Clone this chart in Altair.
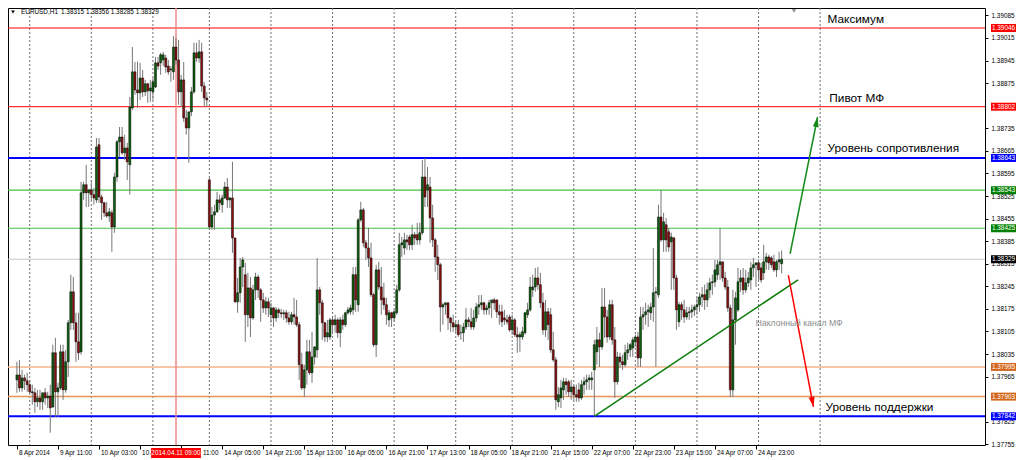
import altair as alt
import pandas as pd

# ---- hourly EURUSD candles (values in points above 1.37000; 1 point = 0.00001) ----
opens = [
    955, 970, 930, 961, 952, 940, 918, 915, 887, 899,
    887, 915, 899, 905, 871, 1039, 918, 930, 1042, 924,
    1011, 1132, 1228, 1132, 1073, 1042, 1535, 1560, 1535, 1544,
    1529, 1513, 1684, 1522, 1504, 1473, 1463, 1473, 1429, 1584,
    1693, 1708, 1659, 1674, 1622, 1798, 1910, 1854, 1845, 1891,
    1848, 1873, 1851, 1848, 1863, 1938, 1938, 1947, 1953, 1928,
    1916, 1910, 1987, 1947, 1848, 1885, 1767, 1736, 1786, 1848,
    1969, 1953, 1972, 1866, 1829, 1575, 1429, 1466, 1476, 1513,
    1498, 1519, 1553, 1513, 1519, 1395, 1197, 1225, 1305, 1281,
    1157, 1240, 1147, 1234, 1274, 1234, 1203, 1178, 1197, 1157,
    1178, 1147, 1172, 1163, 1160, 1163, 1147, 1135, 1157, 1150,
    1126, 1002, 930, 986, 1042, 977, 1026, 1048, 1234, 1194,
    1132, 1088, 1088, 1141, 1126, 1141, 1101, 1141, 1126, 1163,
    1166, 1172, 1281, 1188, 1451, 1482, 1380, 1364, 1333, 1219,
    1064, 1296, 1243, 1209, 1188, 1141, 1163, 1147, 1163, 1234,
    1374, 1364, 1389, 1398, 1374, 1405, 1405, 1389, 1411, 1584,
    1544, 1553, 1457, 1389, 1336, 1312, 1181, 1188, 1194, 1147,
    1132, 1119, 1126, 1101, 1101, 1119, 1141, 1135, 1119, 1147,
    1181, 1188, 1194, 1172, 1178, 1194, 1203, 1203, 1166, 1166,
    1147, 1141, 1150, 1110, 1141, 1095, 1088, 1088, 1101, 1157,
    1172, 1234, 1243, 1271, 1250, 1194, 1110, 1166, 1157, 1048,
    1017, 887, 899, 924, 949, 949, 918, 933, 909, 924,
    899, 940, 949, 955, 955, 986, 1042, 1079, 1057, 1181,
    1150, 1088, 1188, 1079, 949, 1026, 1011, 1002, 1039, 1048,
    1054, 1073, 1088, 1023, 1150, 1157, 1166, 1163, 1181, 1225,
    1219, 1460, 1389, 1436, 1414, 1383, 1395, 1271, 1135, 1188,
    1172, 1150, 1163, 1166, 1172, 1181, 1188, 1212, 1219, 1203,
    1234, 1256, 1259, 1281, 1312, 1321, 1271, 1243, 1178, 924,
    1141, 1172, 1259, 1271, 1234, 1256, 1265, 1302, 1312, 1318,
    1302, 1287, 1321, 1336, 1333, 1321, 1296, 1321, 1315,
]
highs = [
    1011, 1017, 986, 971, 977, 955, 940, 930, 924, 924,
    915, 930, 918, 940, 1064, 1085, 946, 1064, 1064, 1048,
    1141, 1281, 1274, 1163, 1163, 1569, 1569, 1622, 1544, 1575,
    1550, 1705, 1705, 1529, 1507, 1507, 1488, 1482, 1597, 1699,
    1739, 1739, 1715, 1690, 1832, 1987, 1941, 1941, 1938, 1916,
    1885, 1876, 1885, 1891, 1956, 1956, 1969, 1972, 1963, 1947,
    1928, 2021, 2015, 2009, 1901, 1941, 1792, 1786, 1863, 2000,
    2000, 2009, 2000, 1879, 1848, 1581, 1491, 1498, 1538, 1529,
    1529, 1569, 1581, 1522, 1631, 1395, 1271, 1333, 1336, 1318,
    1287, 1274, 1250, 1287, 1281, 1240, 1225, 1212, 1209, 1194,
    1181, 1181, 1178, 1175, 1172, 1172, 1166, 1166, 1209, 1203,
    1135, 1039, 1002, 1079, 1079, 1104, 1060, 1333, 1243, 1203,
    1135, 1141, 1147, 1147, 1157, 1147, 1150, 1157, 1166, 1181,
    1188, 1305, 1305, 1457, 1507, 1488, 1389, 1426, 1380, 1225,
    1312, 1321, 1305, 1256, 1209, 1172, 1166, 1172, 1250, 1411,
    1398, 1411, 1405, 1405, 1436, 1414, 1442, 1442, 1637, 1643,
    1615, 1584, 1498, 1395, 1374, 1318, 1194, 1194, 1194, 1150,
    1157, 1135, 1141, 1126, 1132, 1178, 1150, 1178, 1172, 1194,
    1218, 1218, 1197, 1188, 1203, 1203, 1209, 1203, 1188, 1188,
    1172, 1157, 1157, 1157, 1147, 1119, 1104, 1119, 1166, 1194,
    1274, 1281, 1302, 1305, 1287, 1225, 1203, 1178, 1178, 1104,
    1026, 933, 955, 961, 961, 955, 955, 940, 940, 946,
    955, 964, 971, 971, 980, 1079, 1119, 1101, 1240, 1240,
    1172, 1203, 1203, 1119, 1042, 1039, 1033, 1064, 1070, 1070,
    1088, 1095, 1104, 1181, 1181, 1194, 1188, 1194, 1364, 1243,
    1498, 1544, 1473, 1457, 1426, 1411, 1398, 1281, 1197, 1197,
    1203, 1181, 1181, 1188, 1188, 1212, 1225, 1243, 1250, 1256,
    1271, 1281, 1327, 1327, 1426, 1321, 1290, 1265, 1188, 1234,
    1228, 1302, 1296, 1302, 1296, 1290, 1321, 1333, 1318, 1321,
    1318, 1374, 1349, 1343, 1339, 1343, 1327, 1352, 1356,
]
lows = [
    915, 918, 918, 924, 918, 909, 878, 853, 871, 862,
    862, 878, 868, 791, 868, 840, 840, 924, 893, 915,
    964, 1110, 1110, 1011, 1017, 1033, 1513, 1491, 1491, 1513,
    1498, 1504, 1504, 1451, 1460, 1457, 1445, 1352, 1411, 1569,
    1646, 1653, 1637, 1575, 1529, 1792, 1839, 1798, 1823, 1832,
    1835, 1814, 1817, 1823, 1860, 1916, 1901, 1928, 1907, 1901,
    1879, 1885, 1932, 1808, 1801, 1755, 1715, 1628, 1773, 1842,
    1941, 1938, 1848, 1801, 1801, 1420, 1420, 1420, 1473, 1482,
    1473, 1516, 1488, 1488, 1349, 1194, 1163, 1194, 1243, 1073,
    1119, 1088, 1141, 1203, 1209, 1135, 1163, 1157, 1150, 1132,
    1119, 1135, 1147, 1147, 1141, 1132, 1126, 1126, 1126, 1119,
    955, 924, 902, 940, 970, 946, 1002, 1023, 1157, 1079,
    1073, 1073, 1079, 1104, 1101, 1085, 1057, 1110, 1119, 1157,
    1157, 1157, 1166, 1166, 1445, 1367, 1327, 1305, 1212, 1057,
    1026, 1234, 1157, 1172, 1126, 1119, 1119, 1135, 1157, 1228,
    1336, 1343, 1358, 1358, 1358, 1374, 1374, 1374, 1405, 1491,
    1491, 1380, 1367, 1290, 1265, 1104, 1126, 1157, 1110, 1104,
    1104, 1101, 1088, 1079, 1073, 1110, 1119, 1110, 1110, 1135,
    1157, 1172, 1157, 1157, 1157, 1147, 1172, 1147, 1126, 1119,
    1126, 1126, 1104, 1095, 1088, 1039, 1042, 1079, 1095, 1147,
    1166, 1212, 1228, 1234, 1178, 1095, 1088, 1079, 1039, 1011,
    862, 871, 868, 893, 909, 902, 893, 893, 887, 887,
    893, 909, 924, 924, 924, 843, 1002, 995, 1048, 1085,
    1070, 1079, 1064, 899, 940, 992, 986, 995, 1017, 1026,
    1026, 1057, 995, 995, 1110, 1126, 1119, 1141, 1135, 995,
    1209, 1383, 1352, 1352, 1352, 1234, 1234, 1110, 1119, 1141,
    1132, 1141, 1141, 1147, 1153, 1157, 1166, 1181, 1172, 1181,
    1209, 1219, 1243, 1265, 1265, 1259, 1234, 1166, 902, 902,
    1064, 1166, 1228, 1219, 1225, 1243, 1234, 1274, 1243, 1265,
    1256, 1265, 1296, 1296, 1302, 1290, 1274, 1296, 1285,
]
closes = [
    970, 930, 961, 952, 940, 918, 915, 887, 899, 887,
    915, 899, 905, 868, 1039, 918, 930, 1042, 924, 1011,
    1132, 1228, 1132, 1073, 1039, 1535, 1560, 1535, 1544, 1529,
    1519, 1677, 1522, 1504, 1473, 1463, 1476, 1429, 1584, 1693,
    1708, 1659, 1674, 1631, 1801, 1910, 1854, 1845, 1891, 1848,
    1873, 1851, 1860, 1879, 1938, 1928, 1963, 1963, 1925, 1910,
    1919, 1987, 1947, 1848, 1885, 1767, 1736, 1786, 1848, 1969,
    1953, 1972, 1866, 1829, 1823, 1429, 1466, 1476, 1513, 1504,
    1519, 1553, 1513, 1519, 1395, 1197, 1225, 1305, 1327, 1157,
    1240, 1147, 1234, 1274, 1234, 1203, 1178, 1197, 1178, 1178,
    1147, 1172, 1163, 1160, 1163, 1147, 1135, 1157, 1150, 1126,
    1002, 930, 986, 1042, 977, 1026, 1057, 1234, 1194, 1132,
    1088, 1101, 1141, 1126, 1141, 1101, 1141, 1126, 1163, 1172,
    1178, 1281, 1203, 1451, 1482, 1380, 1364, 1333, 1219, 1064,
    1296, 1243, 1203, 1188, 1157, 1163, 1147, 1166, 1234, 1374,
    1380, 1389, 1383, 1374, 1405, 1395, 1389, 1411, 1584, 1522,
    1560, 1457, 1389, 1336, 1312, 1181, 1188, 1194, 1147, 1132,
    1119, 1126, 1095, 1101, 1119, 1141, 1135, 1119, 1147, 1181,
    1188, 1194, 1172, 1178, 1194, 1203, 1194, 1166, 1157, 1135,
    1141, 1135, 1110, 1141, 1095, 1088, 1095, 1104, 1163, 1172,
    1243, 1243, 1271, 1250, 1194, 1110, 1166, 1126, 1048, 1017,
    893, 909, 930, 949, 940, 918, 933, 909, 902, 899,
    940, 949, 955, 961, 961, 1064, 1079, 1057, 1181, 1150,
    1088, 1188, 1079, 949, 1026, 1011, 1002, 1039, 1048, 1064,
    1079, 1088, 1023, 1150, 1157, 1166, 1172, 1181, 1225, 1228,
    1460, 1389, 1445, 1389, 1367, 1398, 1271, 1172, 1188, 1172,
    1150, 1163, 1166, 1172, 1181, 1188, 1212, 1219, 1203, 1234,
    1256, 1259, 1296, 1312, 1321, 1271, 1243, 1178, 924, 1141,
    1209, 1259, 1271, 1234, 1256, 1271, 1302, 1312, 1318, 1296,
    1265, 1321, 1336, 1318, 1312, 1296, 1321, 1327, 1329,
]

# ---- horizontal levels ----
level_prices = [1.39046, 1.38802, 1.38643, 1.38543, 1.38425, 1.37995, 1.37903, 1.37842]
level_colors = ["#ff0000", "#ff0000", "#0000ff", "#45c045", "#45c045", "#f3b48a", "#e8935e", "#0000ff"]
level_widths = [1, 1, 2, 1.2, 1.2, 1.5, 1.5, 2]
bid_price = 1.38329

tag_prices = [1.39046, 1.38802, 1.38643, 1.38543, 1.38425, 1.38329, 1.37995, 1.37903, 1.37842]
tag_colors = ["#ff0000", "#ff0000", "#0000ff", "#008000", "#008000", "#000000", "#d2691e", "#d2691e", "#0000ff"]

price_ticks = [1.37755, 1.37825, 1.37965, 1.38035, 1.38105, 1.38175, 1.38245,
               1.38315, 1.38385, 1.38455, 1.38525, 1.38595, 1.38665, 1.38735,
               1.38875, 1.38945, 1.39015, 1.39085]

# ---- time axis ----
day_starts = [5, 29, 53, 75, 99, 123, 147, 171, 193, 217, 241, 265, 289, 313]
time_idx = [0, 16, 32, 48, 64, 80, 96, 112, 128, 144, 160, 176, 192, 208, 224, 240, 256, 272, 288]
time_txt = ["8 Apr 2014", "9 Apr 11:00", "10 Apr 03:00", "10 Apr 19:00", "11 Apr 11:00",
            "14 Apr 05:00", "14 Apr 21:00", "15 Apr 13:00", "16 Apr 05:00", "16 Apr 21:00",
            "17 Apr 13:00", "18 Apr 05:00", "18 Apr 21:00", "21 Apr 15:00", "22 Apr 07:00",
            "22 Apr 23:00", "23 Apr 15:00", "24 Apr 07:00", "24 Apr 23:00"]
marker_bar = 62
marker_text = "2014.04.11 09:00"

# ---- drawn objects ----
trend_x = [225, 304.4]
trend_p = [1.37842, 1.38265]
arrow_x0 = [301.3, 300.6]
arrow_p0 = [1.38346, 1.38280]
arrow_x1 = [312.0, 310.4]
arrow_p1 = [1.38770, 1.37871]
arrow_colors = ["#16891a", "#ff0000"]
arrow_angles = [10.6, 169.3]

note_x = [315.9, 316.6, 315.9, 315.1]
note_p = [1.39074, 1.38829, 1.38674, 1.37871]
note_t = ["Максимум", "Пивот МФ", "Уровень сопротивления", "Уровень поддержки"]
channel_x = [287.9]
channel_p = [1.38132]
channel_t = ["Наклонный канал МФ"]

header_symbol = "EURUSD,H1"
header_ohlc = "1.38315 1.38356 1.38285 1.38329"

# ---------------------------------------------------------------
W, H = 977, 437
PAD_R, PAD_B = 31, 15
FONT = "Liberation Sans"

df = pd.DataFrame({"i": list(range(len(opens)))})
df["o"] = [1.37 + v / 1e5 for v in opens]
df["h"] = [1.37 + v / 1e5 for v in highs]
df["l"] = [1.37 + v / 1e5 for v in lows]
df["c"] = [1.37 + v / 1e5 for v in closes]
df["h"] = df[["h", "o", "c"]].max(axis=1)
df["l"] = df[["l", "o", "c"]].min(axis=1)
df["d"] = ["up" if c >= o else "down" for o, c in zip(df["o"], df["c"])]

xs = alt.Scale(domain=[-1.52, 375.3], nice=False, zero=False)
ys = alt.Scale(domain=[1.37753, 1.39108], nice=False, zero=False)
xax = alt.Axis(values=time_idx, labels=False, ticks=True, tickSize=4, tickColor="#000",
               domain=False, grid=False, title=None)
yax = alt.Axis(orient="right", values=price_ticks, format=".5f", labelFontSize=6.4,
               labelFont=FONT, labelColor="#000", tickSize=3, tickColor="#000",
               domain=False, grid=False, title=None, labelPadding=3,
               labelOverlap=False, labelFlush=False)


def X(f="i"):
    return alt.X(f"{f}:Q", scale=xs, axis=xax)


def Y(f="p"):
    return alt.Y(f"{f}:Q", scale=ys, axis=yax)


grid = alt.Chart(pd.DataFrame({"i": day_starts})).mark_rule(
    color="#6f6f6f", strokeDash=[2, 2], strokeWidth=1).encode(x=X())

levels = alt.Chart(pd.DataFrame({"p": level_prices, "col": level_colors, "w": level_widths})).mark_rule().encode(
    y=Y(), color=alt.Color("col:N", scale=None), strokeWidth=alt.StrokeWidth("w:Q", scale=None))

bid = alt.Chart(pd.DataFrame({"p": [bid_price]})).mark_rule(color="#c8c8c8", strokeWidth=1).encode(y=Y())

vline = alt.Chart(pd.DataFrame({"i": [marker_bar]})).mark_rule(
    color="#f08a8a", strokeWidth=1.5).encode(x=X())

wicks = alt.Chart(df).mark_rule(color="#777777", strokeWidth=1).encode(x=X(), y=Y("l"), y2="h")
bodies = alt.Chart(df).mark_bar(width=2, stroke="#000", strokeWidth=0.5).encode(
    x=X(), y=Y("o"), y2="c",
    color=alt.Color("d:N", scale=alt.Scale(domain=["up", "down"], range=["#0b620b", "#8e0f0f"]), legend=None))

trend = alt.Chart(pd.DataFrame({"i": [trend_x[0]], "i2": [trend_x[1]], "p": [trend_p[0]], "p2": [trend_p[1]]})).mark_rule(
    color="#0a7d0a", strokeWidth=1.5).encode(x=X(), x2="i2", y=Y(), y2="p2")

arrows_df = pd.DataFrame({"i": arrow_x0, "i2": arrow_x1, "p": arrow_p0, "p2": arrow_p1,
                          "col": arrow_colors})
arrows = alt.Chart(arrows_df).mark_rule(strokeWidth=1.5).encode(
    x=X(), x2="i2", y=Y(), y2="p2", color=alt.Color("col:N", scale=None))
heads = alt.Chart(pd.DataFrame({"i": arrow_x1, "p": arrow_p1, "col": arrow_colors, "a": arrow_angles})).mark_point(
    shape="M0,0L0.3,1L-0.3,1Z", size=400, filled=True, opacity=1, strokeWidth=0).encode(
    x=X(), y=Y(), color=alt.Color("col:N", scale=None), angle=alt.Angle("a:Q", scale=None))

notes = alt.Chart(pd.DataFrame({"i": note_x, "p": note_p, "t": note_t})).mark_text(
    align="left", baseline="middle", font=FONT, fontSize=11.8, color="#000").encode(x=X(), y=Y(), text="t:N")
channel = alt.Chart(pd.DataFrame({"i": channel_x, "p": channel_p, "t": channel_t})).mark_text(
    align="left", baseline="middle", font=FONT, fontSize=8.6, color="#8c8c8c").encode(x=X(), y=Y(), text="t:N")

one = pd.DataFrame({"k": [0]})
tri = alt.Chart(one).mark_point(shape="triangle-down", size=14, filled=True, color="#000", opacity=1).encode(
    x=alt.value(5), y=alt.value(4))
shift_tri = alt.Chart(one).mark_point(shape="triangle-down", size=22, filled=True, color="#9a9a9a", opacity=1).encode(
    x=alt.value(786), y=alt.value(3))
head1 = alt.Chart(pd.DataFrame({"t": [header_symbol]})).mark_text(
    align="left", baseline="middle", font=FONT, fontSize=6.4, color="#000").encode(
    x=alt.value(13), y=alt.value(4), text="t:N")
head2 = alt.Chart(pd.DataFrame({"t": [header_ohlc]})).mark_text(
    align="left", baseline="middle", font=FONT, fontSize=6.4, color="#000").encode(
    x=alt.value(53), y=alt.value(4), text="t:N")

tags_df = pd.DataFrame({"p": tag_prices, "col": tag_colors, "s": [f"{p:.5f}" for p in tag_prices]})
tag_boxes = alt.Chart(tags_df).mark_rule(strokeWidth=8).encode(
    y=Y(), x=alt.value(W + 6), x2=alt.value(W + PAD_R), color=alt.Color("col:N", scale=None))
tag_text = alt.Chart(tags_df).mark_text(color="#ffffff", font=FONT, fontSize=6.4, align="center",
                                        baseline="middle").encode(y=Y(), x=alt.value(W + 18.5), text="s:N")

tlabels = alt.Chart(pd.DataFrame({"i": time_idx, "t": time_txt})).mark_text(
    align="left", baseline="middle", dx=2, font=FONT, fontSize=6.4, color="#000").encode(
    x=X(), y=alt.value(H + 8), text="t:N")
tbox = alt.Chart(pd.DataFrame({"i": [marker_bar - 9.7], "i2": [marker_bar + 9.7]})).mark_rule(
    color="#ff0000", strokeWidth=10).encode(x=X(), x2="i2", y=alt.value(H + 8))
ttext = alt.Chart(pd.DataFrame({"i": [marker_bar], "t": [marker_text]})).mark_text(
    align="center", baseline="middle", font=FONT, fontSize=6.4, color="#ffffff").encode(
    x=X(), y=alt.value(H + 8), text="t:N")

chart = alt.layer(
    grid, levels, bid, vline, wicks, bodies, trend, arrows, heads, notes, channel,
    tri, shift_tri, head1, head2, tag_boxes, tag_text, tlabels, tbox, ttext
).properties(
    width=W, height=H,
    autosize=alt.AutoSizeParams(type="none"),
    padding={"left": 0, "top": 0, "right": PAD_R, "bottom": PAD_B},
).configure_view(stroke="#000", strokeWidth=1)

chart.save("out.html", embed_options={"renderer": "svg", "actions": False})
